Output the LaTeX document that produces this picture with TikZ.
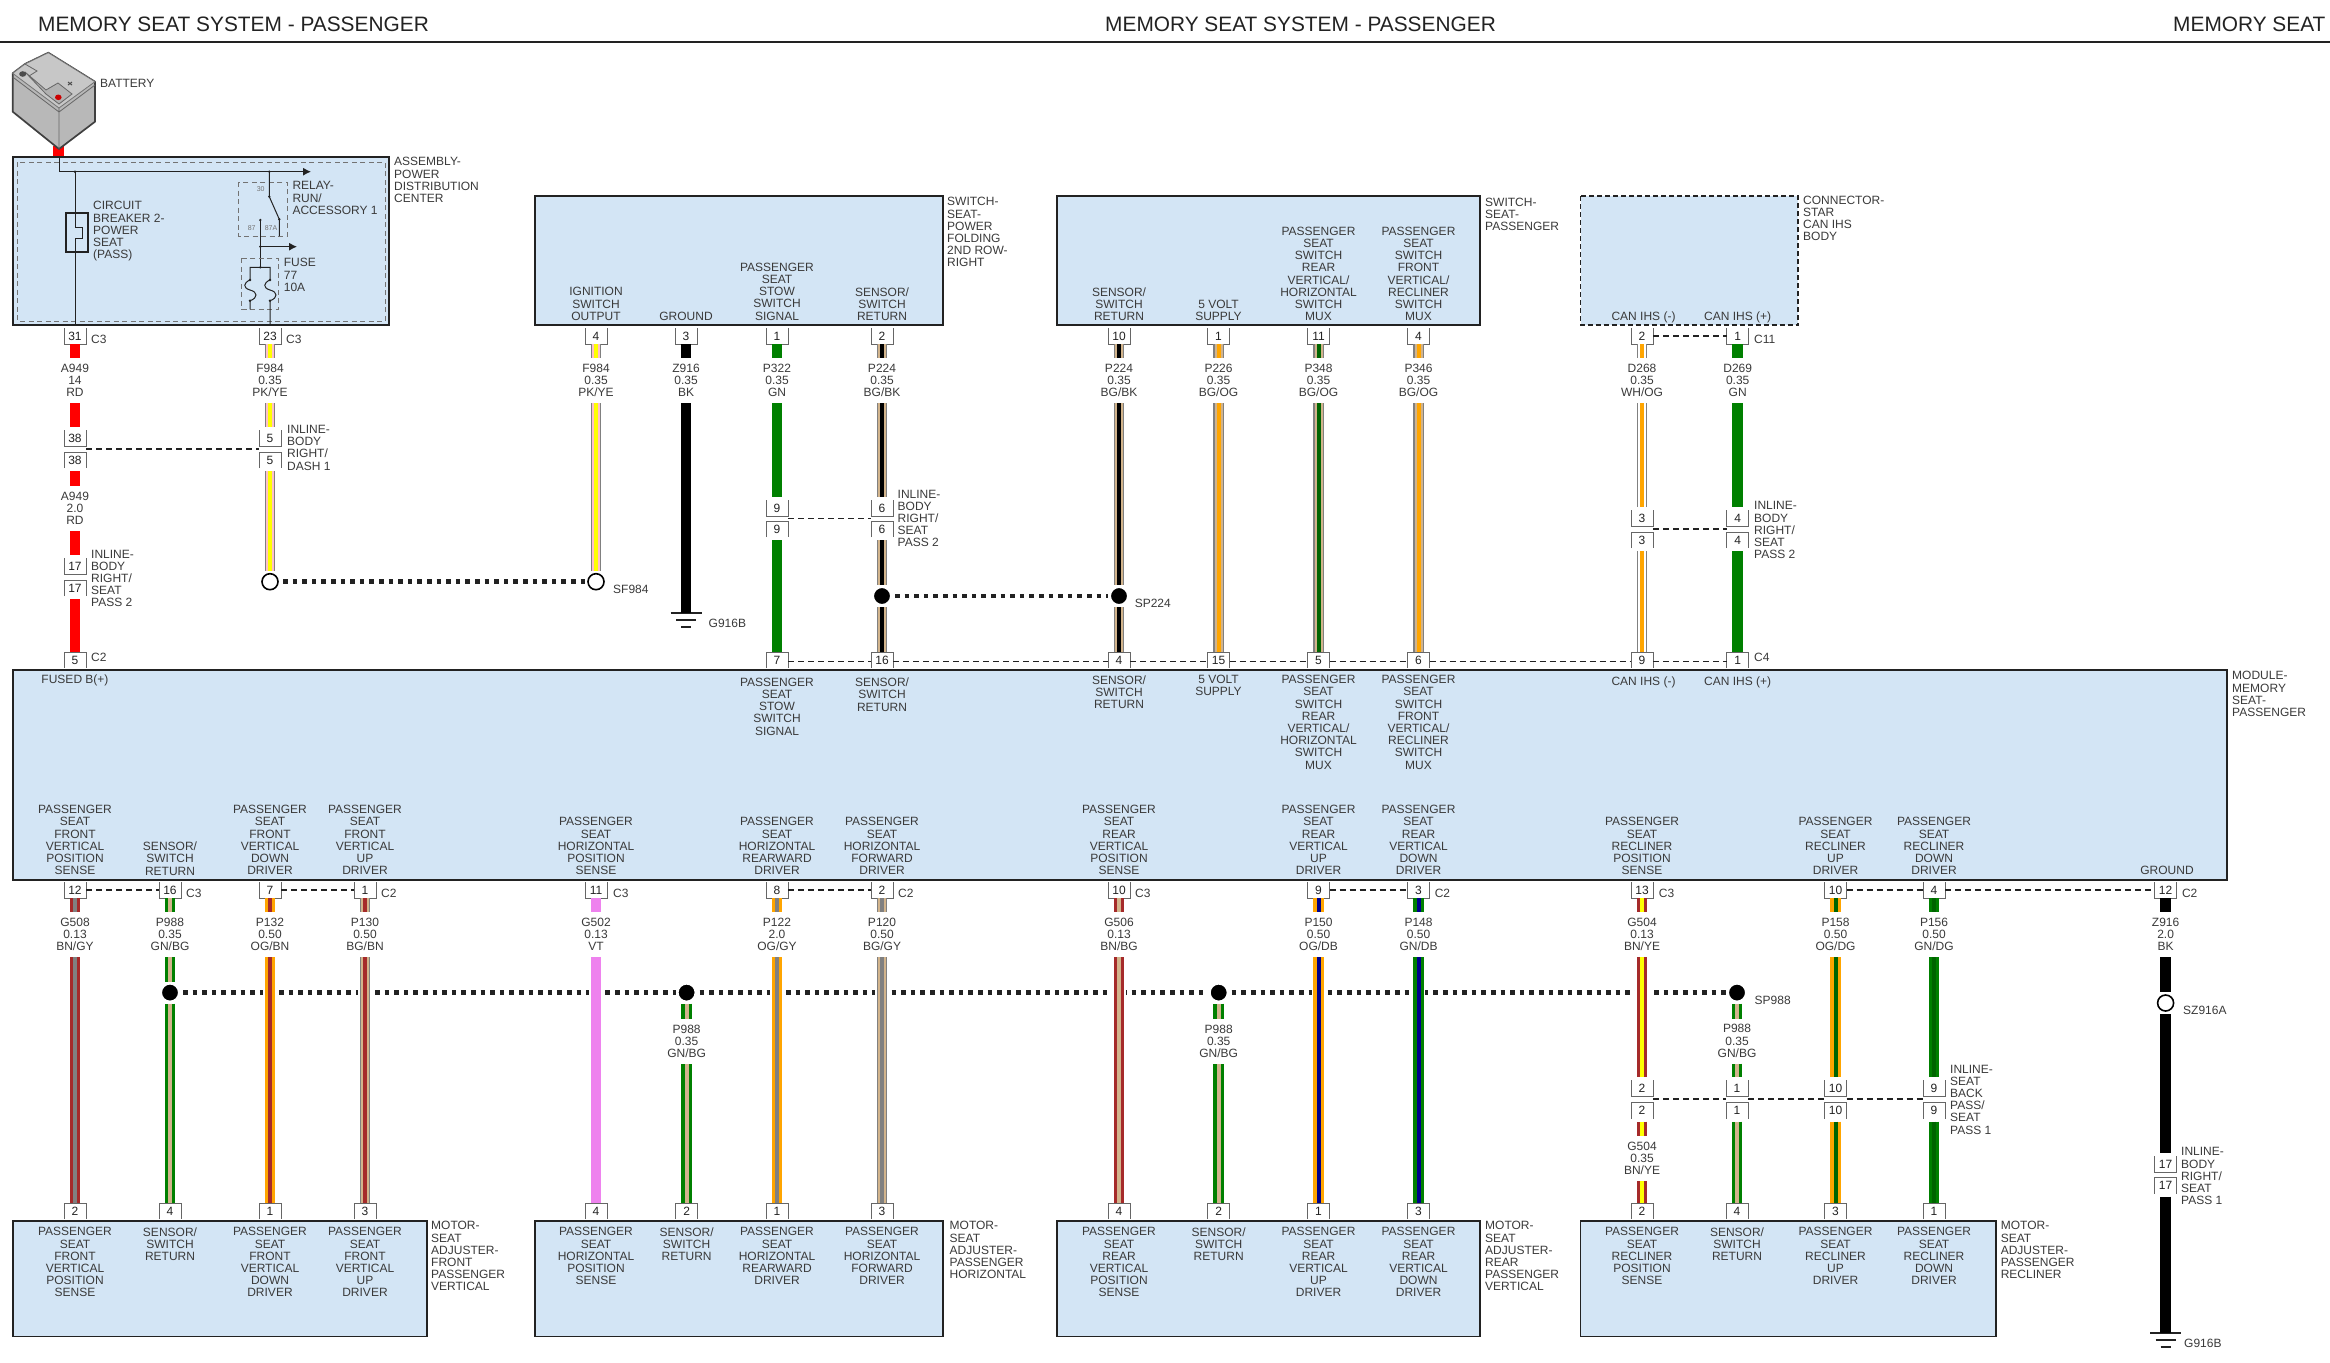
\documentclass[tikz,border=0pt]{standalone}
\usepackage{fontspec}
\setmainfont{Liberation Sans}
\usetikzlibrary{arrows.meta}
\definecolor{boxblue}{HTML}{D3E5F5}
\definecolor{wred}{HTML}{FF0000}
\definecolor{wgreen}{HTML}{008000}
\definecolor{wdkgreen}{HTML}{006400}
\definecolor{wtan}{HTML}{D2B48C}
\definecolor{worange}{HTML}{FFA500}
\definecolor{wbrown}{HTML}{A52A2A}
\definecolor{wgray}{HTML}{808080}
\definecolor{wnavy}{HTML}{00008B}
\definecolor{wviolet}{HTML}{EE82EE}
\definecolor{wpink}{HTML}{FFC0CB}
\definecolor{wyellow}{HTML}{FFFF00}
\definecolor{inkdark}{HTML}{222222}
\definecolor{inktext}{HTML}{3A3A3A}
\tikzset{
  smalltext/.style={font=\fontsize{12}{12.2}\selectfont},
  titletext/.style={anchor=west,inner sep=0pt,text=inkdark,font=\fontsize{20.86}{22}\selectfont},
  boxtext/.style={smalltext,anchor=north,align=center,inner sep=0pt,text=inktext,yshift=4.3},
  sidetext/.style={smalltext,anchor=north west,align=left,inner sep=0pt,text=inktext,yshift=4.3},
  wirelabel/.style={smalltext,align=center,inner sep=0pt,outer sep=0pt,minimum height=45,text=inktext},
  pinbox/.style={smalltext,fill=white,minimum width=22,minimum height=16,inner sep=0pt,outer sep=0pt,text=inkdark},
  pinline/.style={draw=black!60,line width=1},
  modbox/.style={fill=boxblue,draw=inkdark,line width=1.7},
  wirecase/.style={draw=white,line width=13.5,shorten >=1pt,shorten <=1pt},
  wirebody/.style={line width=10.5},
  wirecore/.style={line width=4},
  pindash/.style={draw=inkdark,line width=1.4,dash pattern=on 6pt off 4pt},
  spliceline/.style={draw=inkdark,line width=4.5,dash pattern=on 4.6pt off 5pt,shorten <=2pt},
  splicefull/.style={circle,fill=black,draw=white,line width=3,minimum size=19,inner sep=0pt,outer sep=1.5},
  spliceopen/.style={circle,fill=white,draw=black,line width=1.6,minimum size=16,inner sep=0pt,outer sep=3},
  circuit/.style={draw=inkdark,line width=1},
  innerdash/.style={draw=black!55,line width=1,dash pattern=on 5pt off 3.5pt},
  contact/.style={font=\fontsize{7}{8}\selectfont,text=black!55,inner sep=0pt},
}
\newcommand{\pinu}[4]{\node[pinbox] (#1) at (#2,#3) {#4};
  \draw[pinline] (#1.north west) |- (#1.south east) -- (#1.north east);}
\newcommand{\pinn}[4]{\node[pinbox] (#1) at (#2,#3) {#4};
  \draw[pinline] (#1.south west) |- (#1.north east) -- (#1.south east);}
\newcommand{\wirep}[3]{\draw[wirecase] (#2) -- (#3); \draw[wirebody,#1] (#2) -- (#3);}
\newcommand{\wirett}[4]{\draw[wirecase] (#3) -- (#4); \draw[wirebody,#1] (#3) -- (#4); \draw[wirecore,#2] (#3) -- (#4);}
\newcommand{\wirelt}[4]{\draw[wirecase] (#3) -- (#4); \draw[wirebody,wgray] (#3) -- (#4); \draw[line width=8,#1] (#3) -- (#4); \draw[wirecore,#2] (#3) -- (#4);}
\newcommand{\groundsym}[3]{\coordinate (#1) at (#2,#3);
  \draw[inkdark,line width=1.7] ([xshift=-15.5pt]#1) -- ([xshift=15.5pt]#1)
    ([xshift=-10pt,yshift=-7pt]#1) -- ([xshift=10pt,yshift=-7pt]#1)
    ([xshift=-5pt,yshift=-14pt]#1) -- ([xshift=5pt,yshift=-14pt]#1);}
\begin{document}
\begin{tikzpicture}[x=1pt,y=-1pt]
    \useasboundingbox (0,0) rectangle (2330,1363);
    \fill[white] (0,0) rectangle (2330,1363);

    \node[titletext] (titlea) at (38,24) {MEMORY SEAT SYSTEM - PASSENGER};
    \node[titletext] (titleb) at (1105,24) {MEMORY SEAT SYSTEM - PASSENGER};
    \node[titletext] (titlec) at (2173,24) {MEMORY SEAT};
    \draw[inkdark,line width=1.7] (0,42) -- (2330,42);

    \draw[wirebody,wred] (58.7,146) -- (58.7,157);
    \draw[fill=black!28,draw=black!75,line width=1.7,line join=round] (12.7,73.3) -- (25,64) -- (48.3,52.7) -- (95,81.7) -- (95,121.7) -- (59,149) -- (12.7,111.7) -- cycle;
    \draw[fill=black!22,draw=black!55,line width=0.8] (12.7,73.3) -- (25,64) -- (48.3,52.7) -- (95,81.7) -- (59,108) -- cycle;
    \draw[draw=black!60,line width=0.8] (12.7,77) -- (59,112) -- (95,85) (59,108) -- (59,149);
    \draw[fill=black!30,draw=black!60,line width=0.8] (25,72) -- (46,90) -- (58,83) -- (72,94) -- (59,104) -- (46,94) -- cycle;
    \draw[draw=black!60,line width=0.8] (25,64) -- (37,71) -- (29,76);
    \fill[black!70] (22.7,74) ellipse (3.5 and 2.8);
    \fill[red!80!black] (58.3,97.3) ellipse (3.3 and 2.8);
    \draw[black!70,line width=1] (68,85) -- (72,82) (68,82) -- (72,85);
    \node[sidetext] (battname) at (100,83.3) {BATTERY};

    \draw[modbox] (13,157) rectangle (389,325);
    \draw[innerdash] (17.5,162) rectangle (385,321);
    \node[sidetext] (pdcname) at (394,161.7) {ASSEMBLY-\\POWER\\DISTRIBUTION\\CENTER};
    \coordinate (feedin) at (59,157);
    \coordinate (feedcorner) at (59,171.7);
    \coordinate (feedarrow) at (311,171.7);
    \coordinate (cbjoint) at (75,171.7);
    \coordinate (cbout) at (75,325);
    \coordinate (relayjoint) at (269.3,171.7);
    \coordinate (relaycom) at (269.3,196.7);
    \coordinate (relaync) at (279.3,219.3);
    \coordinate (relayno) at (260.3,220);
    \coordinate (relayout) at (260.3,246.7);
    \coordinate (fusejoint) at (260.3,267.3);
    \coordinate (fusearrow) at (297,246.7);
    \draw[circuit,-{Latex[length=8pt,width=8pt]}] (feedin) -- (feedcorner) -- (feedarrow);
    \draw[circuit] (cbjoint) -- (cbout);
    \fill[inkdark] (cbjoint) circle (1.3) (relayjoint) circle (1.3) (relaycom) circle (1.3) (relaync) circle (1.3) (relayno) circle (1.3) (relayout) circle (1.3) (fusejoint) circle (1.3);
    \draw[draw=inkdark,line width=1.2,fill=boxblue] (66,213) rectangle (88,252);
    \draw[circuit] (75,213) -- (75,227) -- (82,227) -- (82,238.5) -- (75,238.5) -- (75,252);
    \node[sidetext] (cbname) at (93,205.7) {CIRCUIT\\BREAKER 2-\\POWER\\SEAT\\(PASS)};
    \draw[innerdash] (238.7,182) rectangle (287.3,236);
    \draw[circuit] (relayjoint) -- (relaycom) -- (relaync) -- (279.3,236);
    \draw[circuit,-{Latex[length=8pt,width=8pt]}] (relayout) -- (fusearrow);
    \draw[circuit] (relayno) -- (fusejoint);
    \node[contact] (relaythirty) at (260.7,189.3) {30};
    \node[contact] (relayeightseven) at (251.7,228.3) {87};
    \node[contact] (relayeightsevena) at (271,228.3) {87A};
    \node[sidetext] (relayname) at (292.3,185.7) {RELAY-\\RUN/\\ACCESSORY 1};
    \draw[innerdash] (241.7,258.3) rectangle (278.3,309.3);
    \draw[circuit] (250,309.3) -- (250,300.7) .. controls (258,298) and (258,292) .. (250,290) .. controls (243,288) and (243,283) .. (250,280) -- (250,267.3) -- (270,267.3) -- (270,280) .. controls (263,283) and (263,288) .. (270,290) .. controls (278,292) and (278,298) .. (270,300.7) -- (270,325);
    \fill[inkdark] (250,280) circle (1.3) (250,300.7) circle (1.3) (270,280) circle (1.3) (270,300.7) circle (1.3);
    \node[sidetext] (fusename) at (283.7,262.7) {FUSE\\77\\10A};

    \draw[modbox] (535,196) rectangle (943,325);
    \node[sidetext] (foldname) at (947,201.7) {SWITCH-\\SEAT-\\POWER\\FOLDING\\2ND ROW-\\RIGHT};
    \node[boxtext] (fa) at (596,291.7) {IGNITION\\SWITCH\\OUTPUT};
    \node[boxtext] (fb) at (686,316) {GROUND};
    \node[boxtext] (fc) at (777,267) {PASSENGER\\SEAT\\STOW\\SWITCH\\SIGNAL};
    \node[boxtext] (fd) at (882,291.7) {SENSOR/\\SWITCH\\RETURN};

    \draw[modbox] (1057,196) rectangle (1480,325);
    \node[sidetext] (seatname) at (1485,202) {SWITCH-\\SEAT-\\PASSENGER};
    \node[boxtext] (sa) at (1119,291.7) {SENSOR/\\SWITCH\\RETURN};
    \node[boxtext] (sb) at (1218.5,304) {5 VOLT\\SUPPLY};
    \node[boxtext] (sc) at (1318.5,231) {PASSENGER\\SEAT\\SWITCH\\REAR\\VERTICAL/\\HORIZONTAL\\SWITCH\\MUX};
    \node[boxtext] (sd) at (1418.5,231) {PASSENGER\\SEAT\\SWITCH\\FRONT\\VERTICAL/\\RECLINER\\SWITCH\\MUX};

    \draw[fill=boxblue,draw=inkdark,line width=1.7,dash pattern=on 5pt off 3pt] (1580.5,196) rectangle (1798,325);
    \node[sidetext] (starname) at (1803,200) {CONNECTOR-\\STAR\\CAN IHS\\BODY};
    \node[boxtext] (ca) at (1643.5,316) {CAN IHS (-)};
    \node[boxtext] (cb) at (1737.7,316) {CAN IHS (+)};

    \draw[modbox] (13,670) rectangle (2227,880);
    \node[sidetext] (modname) at (2232,675.7) {MODULE-\\MEMORY\\SEAT-\\PASSENGER};
    \node[boxtext] (ma) at (75,679) {FUSED B(+)};
    \node[boxtext] (mb) at (777,682) {PASSENGER\\SEAT\\STOW\\SWITCH\\SIGNAL};
    \node[boxtext] (mc) at (882,682) {SENSOR/\\SWITCH\\RETURN};
    \node[boxtext] (md) at (1119,679.5) {SENSOR/\\SWITCH\\RETURN};
    \node[boxtext] (me) at (1218.5,679.5) {5 VOLT\\SUPPLY};
    \node[boxtext] (mf) at (1318.5,679.5) {PASSENGER\\SEAT\\SWITCH\\REAR\\VERTICAL/\\HORIZONTAL\\SWITCH\\MUX};
    \node[boxtext] (mg) at (1418.5,679.5) {PASSENGER\\SEAT\\SWITCH\\FRONT\\VERTICAL/\\RECLINER\\SWITCH\\MUX};
    \node[boxtext] (mh) at (1643.5,680.7) {CAN IHS (-)};
    \node[boxtext] (mi) at (1737.7,680.7) {CAN IHS (+)};
    \node[boxtext] (na) at (75,809.4) {PASSENGER\\SEAT\\FRONT\\VERTICAL\\POSITION\\SENSE};
    \node[boxtext] (nb) at (170,846) {SENSOR/\\SWITCH\\RETURN};
    \node[boxtext] (nc) at (270,809.4) {PASSENGER\\SEAT\\FRONT\\VERTICAL\\DOWN\\DRIVER};
    \node[boxtext] (nd) at (365,809.4) {PASSENGER\\SEAT\\FRONT\\VERTICAL\\UP\\DRIVER};
    \node[boxtext] (ne) at (596,821.6) {PASSENGER\\SEAT\\HORIZONTAL\\POSITION\\SENSE};
    \node[boxtext] (nf) at (777,821.6) {PASSENGER\\SEAT\\HORIZONTAL\\REARWARD\\DRIVER};
    \node[boxtext] (ng) at (882,821.6) {PASSENGER\\SEAT\\HORIZONTAL\\FORWARD\\DRIVER};
    \node[boxtext] (nh) at (1119,809.4) {PASSENGER\\SEAT\\REAR\\VERTICAL\\POSITION\\SENSE};
    \node[boxtext] (ni) at (1318.5,809.4) {PASSENGER\\SEAT\\REAR\\VERTICAL\\UP\\DRIVER};
    \node[boxtext] (nj) at (1418.5,809.4) {PASSENGER\\SEAT\\REAR\\VERTICAL\\DOWN\\DRIVER};
    \node[boxtext] (nk) at (1642,821.6) {PASSENGER\\SEAT\\RECLINER\\POSITION\\SENSE};
    \node[boxtext] (nl) at (1835.5,821.6) {PASSENGER\\SEAT\\RECLINER\\UP\\DRIVER};
    \node[boxtext] (nm) at (1934,821.6) {PASSENGER\\SEAT\\RECLINER\\DOWN\\DRIVER};
    \node[boxtext] (nn) at (2167,870.7) {GROUND};

    \draw[modbox] (13,1221) rectangle (427,1336.5);
    \node[sidetext] (motora) at (431,1225.7) {MOTOR-\\SEAT\\ADJUSTER-\\FRONT\\PASSENGER\\VERTICAL};
    \node[boxtext] (oa) at (75,1231.7) {PASSENGER\\SEAT\\FRONT\\VERTICAL\\POSITION\\SENSE};
    \node[boxtext] (ob) at (170,1231.7) {SENSOR/\\SWITCH\\RETURN};
    \node[boxtext] (oc) at (270,1231.7) {PASSENGER\\SEAT\\FRONT\\VERTICAL\\DOWN\\DRIVER};
    \node[boxtext] (od) at (365,1231.7) {PASSENGER\\SEAT\\FRONT\\VERTICAL\\UP\\DRIVER};

    \draw[modbox] (535,1221) rectangle (943,1336.5);
    \node[sidetext] (motorb) at (949.5,1225.7) {MOTOR-\\SEAT\\ADJUSTER-\\PASSENGER\\HORIZONTAL};
    \node[boxtext] (oe) at (596,1231.7) {PASSENGER\\SEAT\\HORIZONTAL\\POSITION\\SENSE};
    \node[boxtext] (of) at (686.6,1231.7) {SENSOR/\\SWITCH\\RETURN};
    \node[boxtext] (og) at (777,1231.7) {PASSENGER\\SEAT\\HORIZONTAL\\REARWARD\\DRIVER};
    \node[boxtext] (oh) at (882,1231.7) {PASSENGER\\SEAT\\HORIZONTAL\\FORWARD\\DRIVER};

    \draw[modbox] (1057,1221) rectangle (1480,1336.5);
    \node[sidetext] (motorc) at (1485,1225.7) {MOTOR-\\SEAT\\ADJUSTER-\\REAR\\PASSENGER\\VERTICAL};
    \node[boxtext] (oi) at (1119,1231.7) {PASSENGER\\SEAT\\REAR\\VERTICAL\\POSITION\\SENSE};
    \node[boxtext] (oj) at (1218.7,1231.7) {SENSOR/\\SWITCH\\RETURN};
    \node[boxtext] (ok) at (1318.5,1231.7) {PASSENGER\\SEAT\\REAR\\VERTICAL\\UP\\DRIVER};
    \node[boxtext] (ol) at (1418.5,1231.7) {PASSENGER\\SEAT\\REAR\\VERTICAL\\DOWN\\DRIVER};

    \draw[modbox] (1580.6,1221) rectangle (1995.7,1336.5);
    \node[sidetext] (motord) at (2000.6,1225.7) {MOTOR-\\SEAT\\ADJUSTER-\\PASSENGER\\RECLINER};
    \node[boxtext] (om) at (1642,1231.7) {PASSENGER\\SEAT\\RECLINER\\POSITION\\SENSE};
    \node[boxtext] (on) at (1737,1231.7) {SENSOR/\\SWITCH\\RETURN};
    \node[boxtext] (oo) at (1835.5,1231.7) {PASSENGER\\SEAT\\RECLINER\\UP\\DRIVER};
    \node[boxtext] (op) at (1934,1231.7) {PASSENGER\\SEAT\\RECLINER\\DOWN\\DRIVER};

    \pinu{ua}{75}{336}{31}
    \pinu{ub}{270}{336}{23}
    \pinu{uc}{596}{336}{4}
    \pinu{ud}{686}{336}{3}
    \pinu{ue}{777}{336}{1}
    \pinu{uf}{882}{336}{2}
    \pinu{ug}{1119}{336}{10}
    \pinu{uh}{1218.5}{336}{1}
    \pinu{ui}{1318.5}{336}{11}
    \pinu{uj}{1418.5}{336}{4}
    \pinu{uk}{1642}{336}{2}
    \pinu{ul}{1737.7}{336}{1}

    \pinu{ia}{75}{438}{38}
    \pinn{ib}{75}{460}{38}
    \pinu{ic}{270}{438}{5}
    \pinn{id}{270}{460}{5}
    \pinu{ie}{75}{566}{17}
    \pinn{if}{75}{588}{17}
    \pinu{ig}{777}{508}{9}
    \pinn{ih}{777}{529}{9}
    \pinu{ii}{882}{508}{6}
    \pinn{ij}{882}{529}{6}
    \pinu{ik}{1642}{518}{3}
    \pinn{il}{1642}{540}{3}
    \pinu{im}{1737.7}{518}{4}
    \pinn{in}{1737.7}{540}{4}

    \pinn{ta}{75}{660}{5}
    \pinn{tb}{777}{660}{7}
    \pinn{tc}{882}{660}{16}
    \pinn{td}{1119}{660}{4}
    \pinn{te}{1218.5}{660}{15}
    \pinn{tf}{1318.5}{660}{5}
    \pinn{tg}{1418.5}{660}{6}
    \pinn{th}{1642}{660}{9}
    \pinn{ti}{1737.7}{660}{1}

    \pinu{da}{75}{890}{12}
    \pinu{db}{170}{890}{16}
    \pinu{dc}{270}{890}{7}
    \pinu{dd}{365}{890}{1}
    \pinu{de}{596}{890}{11}
    \pinu{df}{777}{890}{8}
    \pinu{dg}{882}{890}{2}
    \pinu{dh}{1119}{890}{10}
    \pinu{di}{1318.5}{890}{9}
    \pinu{dj}{1418.5}{890}{3}
    \pinu{dk}{1642}{890}{13}
    \pinu{dl}{1835.5}{890}{10}
    \pinu{dm}{1934}{890}{4}
    \pinu{dn}{2165.6}{890}{12}

    \pinu{ja}{1642}{1088}{2}
    \pinn{jb}{1642}{1110.5}{2}
    \pinu{jc}{1737}{1088}{1}
    \pinn{jd}{1737}{1110.5}{1}
    \pinu{je}{1835.5}{1088}{10}
    \pinn{jf}{1835.5}{1110.5}{10}
    \pinu{jg}{1934}{1088}{9}
    \pinn{jh}{1934}{1110.5}{9}
    \pinu{ka}{2165.6}{1164}{17}
    \pinn{kb}{2165.6}{1185.6}{17}

    \pinn{ba}{75}{1211}{2}
    \pinn{bb}{170}{1211}{4}
    \pinn{bc}{270}{1211}{1}
    \pinn{bd}{365}{1211}{3}
    \pinn{be}{596}{1211}{4}
    \pinn{bf}{686.6}{1211}{2}
    \pinn{bg}{777}{1211}{1}
    \pinn{bh}{882}{1211}{3}
    \pinn{bi}{1119}{1211}{4}
    \pinn{bj}{1218.7}{1211}{2}
    \pinn{bk}{1318.5}{1211}{1}
    \pinn{bl}{1418.5}{1211}{3}
    \pinn{bm}{1642}{1211}{2}
    \pinn{bn}{1737}{1211}{4}
    \pinn{bo}{1835.5}{1211}{3}
    \pinn{bp}{1934}{1211}{1}

    \node[sidetext] (cua) at (91,339) {C3};
    \node[sidetext] (cub) at (286,339) {C3};
    \node[sidetext] (cuc) at (1754,339.7) {C11};
    \node[sidetext] (cta) at (91,657) {C2};
    \node[sidetext] (ctb) at (1754,657.7) {C4};
    \node[sidetext] (cda) at (186,893.4) {C3};
    \node[sidetext] (cdb) at (381,893.4) {C2};
    \node[sidetext] (cdc) at (613,893.4) {C3};
    \node[sidetext] (cdd) at (898,893.4) {C2};
    \node[sidetext] (cde) at (1135,893.4) {C3};
    \node[sidetext] (cdf) at (1434.6,893.4) {C2};
    \node[sidetext] (cdg) at (1658.7,893.4) {C3};
    \node[sidetext] (cdh) at (2181.8,893.4) {C2};

    \node[sidetext] (inla) at (287,429.3) {INLINE-\\BODY\\RIGHT/\\DASH 1};
    \node[sidetext] (inlb) at (91,554) {INLINE-\\BODY\\RIGHT/\\SEAT\\PASS 2};
    \node[sidetext] (inlc) at (897.5,494) {INLINE-\\BODY\\RIGHT/\\SEAT\\PASS 2};
    \node[sidetext] (inld) at (1754,505.7) {INLINE-\\BODY\\RIGHT/\\SEAT\\PASS 2};
    \node[sidetext] (inle) at (1950,1068.9) {INLINE-\\SEAT\\BACK\\PASS/\\SEAT\\PASS 1};
    \node[sidetext] (inlf) at (2181,1151.7) {INLINE-\\BODY\\RIGHT/\\SEAT\\PASS 1};

    \draw[pindash] (uk.east) -- (ul.west);
    \draw[pindash] ([yshift=-3pt]ia.south east) -- ([yshift=-3pt]ic.south west);
    \draw[pindash] ([yshift=-2.3pt]ig.south east) -- ([yshift=-2.3pt]ii.south west);
    \draw[pindash] ([yshift=-3pt]ik.south east) -- ([yshift=-3pt]im.south west);
    \draw[pindash] ([yshift=-1.7pt]tb.east) -- ([yshift=-1.7pt]tc.west);
    \draw[pindash] ([yshift=-1.7pt]tc.east) -- ([yshift=-1.7pt]td.west);
    \draw[pindash] ([yshift=-1.7pt]td.east) -- ([yshift=-1.7pt]te.west);
    \draw[pindash] ([yshift=-1.7pt]te.east) -- ([yshift=-1.7pt]tf.west);
    \draw[pindash] ([yshift=-1.7pt]tf.east) -- ([yshift=-1.7pt]tg.west);
    \draw[pindash] ([yshift=-1.7pt]tg.east) -- ([yshift=-1.7pt]th.west);
    \draw[pindash] ([yshift=-1.7pt]th.east) -- ([yshift=-1.7pt]ti.west);
    \draw[pindash] (da.east) -- (db.west);
    \draw[pindash] (dc.east) -- (dd.west);
    \draw[pindash] (df.east) -- (dg.west);
    \draw[pindash] (di.east) -- (dj.west);
    \draw[pindash] (dl.east) -- (dm.west);
    \draw[pindash] (dm.east) -- (dn.west);
    \draw[pindash] ([yshift=-3pt]ja.south east) -- ([yshift=-3pt]jc.south west);
    \draw[pindash] ([yshift=-3pt]jc.south east) -- ([yshift=-3pt]je.south west);
    \draw[pindash] ([yshift=-3pt]je.south east) -- ([yshift=-3pt]jg.south west);

    \node[spliceopen] (sfa) at (270,581.7) {};
    \node[spliceopen] (sfb) at (596,581.7) {};
    \node[splicefull] (spa) at (882,596) {};
    \node[splicefull] (spb) at (1119,596) {};
    \node[splicefull] (sqa) at (170,992.6) {};
    \node[splicefull] (sqb) at (686.6,992.6) {};
    \node[splicefull] (sqc) at (1218.7,992.6) {};
    \node[splicefull] (sqd) at (1737,992.6) {};
    \node[spliceopen] (sza) at (2165.6,1003) {};
    \draw[spliceline] (sfa.east) -- (sfb.west);
    \draw[spliceline] (spa.east) -- (spb.west);
    \draw[spliceline] (sqa.east) -- (sqb.west);
    \draw[spliceline] (sqb.east) -- (sqc.west);
    \draw[spliceline] (sqc.east) -- (sqd.west);
    \node[sidetext] (sfname) at (613,589) {SF984};
    \node[sidetext] (spname) at (1134.6,603) {SP224};
    \node[sidetext] (sqname) at (1754.5,1000.4) {SP988};
    \node[sidetext] (szname) at (2183,1010.5) {SZ916A};

    \node[wirelabel] (wa) at (75,380.5) {A949\\14\\RD};
    \node[wirelabel] (wb) at (75,508.5) {A949\\2.0\\RD};
    \node[wirelabel] (wc) at (270,380.5) {F984\\0.35\\PK/YE};
    \node[wirelabel] (wd) at (596,380.5) {F984\\0.35\\PK/YE};
    \node[wirelabel] (we) at (686,380.5) {Z916\\0.35\\BK};
    \node[wirelabel] (wf) at (777,380.5) {P322\\0.35\\GN};
    \node[wirelabel] (wg) at (882,380.5) {P224\\0.35\\BG/BK};
    \node[wirelabel] (wh) at (1119,380.5) {P224\\0.35\\BG/BK};
    \node[wirelabel] (wi) at (1218.5,380.5) {P226\\0.35\\BG/OG};
    \node[wirelabel] (wj) at (1318.5,380.5) {P348\\0.35\\BG/OG};
    \node[wirelabel] (wk) at (1418.5,380.5) {P346\\0.35\\BG/OG};
    \node[wirelabel] (wl) at (1642,380.5) {D268\\0.35\\WH/OG};
    \node[wirelabel] (wm) at (1737.7,380.5) {D269\\0.35\\GN};
    \node[wirelabel] (xa) at (75,934.5) {G508\\0.13\\BN/GY};
    \node[wirelabel] (xb) at (170,934.5) {P988\\0.35\\GN/BG};
    \node[wirelabel] (xc) at (270,934.5) {P132\\0.50\\OG/BN};
    \node[wirelabel] (xd) at (365,934.5) {P130\\0.50\\BG/BN};
    \node[wirelabel] (xe) at (596,934.5) {G502\\0.13\\VT};
    \node[wirelabel] (xf) at (777,934.5) {P122\\2.0\\OG/GY};
    \node[wirelabel] (xg) at (882,934.5) {P120\\0.50\\BG/GY};
    \node[wirelabel] (xh) at (1119,934.5) {G506\\0.13\\BN/BG};
    \node[wirelabel] (xi) at (1318.5,934.5) {P150\\0.50\\OG/DB};
    \node[wirelabel] (xj) at (1418.5,934.5) {P148\\0.50\\GN/DB};
    \node[wirelabel] (xk) at (1642,934.5) {G504\\0.13\\BN/YE};
    \node[wirelabel] (xl) at (1835.5,934.5) {P158\\0.50\\OG/DG};
    \node[wirelabel] (xm) at (1934,934.5) {P156\\0.50\\GN/DG};
    \node[wirelabel] (xn) at (2165.6,934.5) {Z916\\2.0\\BK};
    \node[wirelabel] (ya) at (686.6,1041.5) {P988\\0.35\\GN/BG};
    \node[wirelabel] (yb) at (1218.7,1041.5) {P988\\0.35\\GN/BG};
    \node[wirelabel] (yc) at (1737,1041) {P988\\0.35\\GN/BG};
    \node[wirelabel] (yd) at (1642,1158.5) {G504\\0.35\\BN/YE};

    \wirep{wred}{ua.south}{wa.north}
    \wirep{wred}{wa.south}{[yshift=3pt]ia.north}
    \wirep{wred}{[yshift=-3pt]ib.south}{wb.north}
    \wirep{wred}{wb.south}{[yshift=3pt]ie.north}
    \wirep{wred}{[yshift=-3pt]if.south}{ta.north}
    \wirelt{wpink}{wyellow}{ub.south}{wc.north}
    \wirelt{wpink}{wyellow}{wc.south}{[yshift=3pt]ic.north}
    \wirelt{wpink}{wyellow}{[yshift=-3pt]id.south}{sfa.north}
    \wirelt{wpink}{wyellow}{uc.south}{wd.north}
    \wirelt{wpink}{wyellow}{wd.south}{sfb.north}
    \groundsym{gnda}{686}{613.3}
    \wirep{black}{ud.south}{we.north}
    \wirep{black}{we.south}{gnda}
    \wirep{wgreen}{ue.south}{wf.north}
    \wirep{wgreen}{wf.south}{[yshift=3pt]ig.north}
    \wirep{wgreen}{[yshift=-3pt]ih.south}{tb.north}
    \wirelt{wtan}{black}{uf.south}{wg.north}
    \wirelt{wtan}{black}{wg.south}{[yshift=3pt]ii.north}
    \wirelt{wtan}{black}{[yshift=-3pt]ij.south}{spa.north}
    \wirelt{wtan}{black}{spa.south}{tc.north}
    \wirelt{wtan}{black}{ug.south}{wh.north}
    \wirelt{wtan}{black}{wh.south}{spb.north}
    \wirelt{wtan}{black}{spb.south}{td.north}
    \wirelt{wtan}{worange}{uh.south}{wi.north}
    \wirelt{wtan}{worange}{wi.south}{te.north}
    \wirelt{wtan}{wdkgreen}{ui.south}{wj.north}
    \wirelt{wtan}{wdkgreen}{wj.south}{tf.north}
    \wirelt{wtan}{worange}{uj.south}{wk.north}
    \wirelt{wtan}{worange}{wk.south}{tg.north}
    \wirelt{white}{worange}{uk.south}{wl.north}
    \wirelt{white}{worange}{wl.south}{[yshift=3pt]ik.north}
    \wirelt{white}{worange}{[yshift=-3pt]il.south}{th.north}
    \wirep{wgreen}{ul.south}{wm.north}
    \wirep{wgreen}{wm.south}{[yshift=3pt]im.north}
    \wirep{wgreen}{[yshift=-3pt]in.south}{ti.north}

    \wirett{wbrown}{wgray}{da.south}{xa.north}
    \wirett{wbrown}{wgray}{xa.south}{ba.north}
    \wirett{wgreen}{wtan}{db.south}{xb.north}
    \wirett{wgreen}{wtan}{xb.south}{sqa.north}
    \wirett{wgreen}{wtan}{sqa.south}{bb.north}
    \wirett{worange}{wbrown}{dc.south}{xc.north}
    \wirett{worange}{wbrown}{xc.south}{bc.north}
    \wirelt{wtan}{wbrown}{dd.south}{xd.north}
    \wirelt{wtan}{wbrown}{xd.south}{bd.north}
    \wirep{wviolet}{de.south}{xe.north}
    \wirep{wviolet}{xe.south}{be.north}
    \wirett{wgreen}{wtan}{sqb.south}{ya.north}
    \wirett{wgreen}{wtan}{ya.south}{bf.north}
    \wirett{worange}{wgray}{df.south}{xf.north}
    \wirett{worange}{wgray}{xf.south}{bg.north}
    \wirelt{wtan}{wgray}{dg.south}{xg.north}
    \wirelt{wtan}{wgray}{xg.south}{bh.north}
    \wirett{wbrown}{wtan}{dh.south}{xh.north}
    \wirett{wbrown}{wtan}{xh.south}{bi.north}
    \wirett{wgreen}{wtan}{sqc.south}{yb.north}
    \wirett{wgreen}{wtan}{yb.south}{bj.north}
    \wirett{worange}{wnavy}{di.south}{xi.north}
    \wirett{worange}{wnavy}{xi.south}{bk.north}
    \wirett{wgreen}{wnavy}{dj.south}{xj.north}
    \wirett{wgreen}{wnavy}{xj.south}{bl.north}
    \wirett{wbrown}{wyellow}{dk.south}{xk.north}
    \wirett{wbrown}{wyellow}{xk.south}{[yshift=3pt]ja.north}
    \wirett{wbrown}{wyellow}{[yshift=-3pt]jb.south}{yd.north}
    \wirett{wbrown}{wyellow}{yd.south}{bm.north}
    \wirett{wgreen}{wtan}{sqd.south}{yc.north}
    \wirett{wgreen}{wtan}{yc.south}{[yshift=3pt]jc.north}
    \wirett{wgreen}{wtan}{[yshift=-3pt]jd.south}{bn.north}
    \wirett{worange}{wdkgreen}{dl.south}{xl.north}
    \wirett{worange}{wdkgreen}{xl.south}{[yshift=3pt]je.north}
    \wirett{worange}{wdkgreen}{[yshift=-3pt]jf.south}{bo.north}
    \wirett{wgreen}{wdkgreen}{dm.south}{xm.north}
    \wirett{wgreen}{wdkgreen}{xm.south}{[yshift=3pt]jg.north}
    \wirett{wgreen}{wdkgreen}{[yshift=-3pt]jh.south}{bp.north}
    \groundsym{gndb}{2165.6}{1333}
    \wirep{black}{dn.south}{xn.north}
    \wirep{black}{xn.south}{sza.north}
    \wirep{black}{sza.south}{[yshift=3pt]ka.north}
    \wirep{black}{[yshift=-3pt]kb.south}{gndb}
    \node[sidetext] (gndaname) at (708.5,623) {G916B};
    \node[sidetext] (gndbname) at (2184,1342.8) {G916B};
\end{tikzpicture}
\end{document}
